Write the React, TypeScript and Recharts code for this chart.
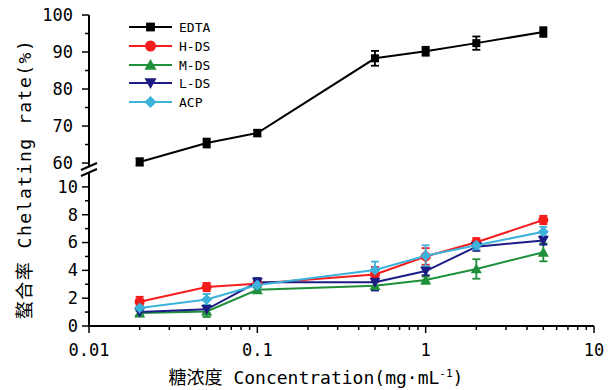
import React from "react";
import { LineChart, Line, XAxis, YAxis, ErrorBar } from "recharts";

const concentrations = [0.02, 0.05, 0.1, 0.5, 1, 2, 5];
const edta = [60.3, 65.4, 68.1, 88.3, 90.2, 92.4, 95.4];
const edtaErr = [1.0, 1.2, 0.9, 2.0, 1.2, 1.8, 1.3];
const hds = [1.75, 2.8, 3.05, 3.7, 5.0, 6.02, 7.62];
const hdsErr = [0.35, 0.3, 0.25, 0.55, 0.6, 0.3, 0.3];
const mds = [0.93, 1.05, 2.6, 2.9, 3.3, 4.1, 5.3];
const mdsErr = [0.15, 0.4, 0.2, 0.3, 0.25, 0.7, 0.65];
const lds = [1.0, 1.2, 3.15, 3.15, 3.95, 5.7, 6.15];
const ldsErr = [0.3, 0.3, 0.3, 0.6, 0.3, 0.3, 0.3];
const acp = [1.3, 1.9, 2.95, 4.03, 5.05, 5.8, 6.78];
const acpErr = [0.2, 0.4, 0.25, 0.6, 0.75, 0.3, 0.35];

const xTicks = [0.01, 0.02, 0.03, 0.04, 0.05, 0.06, 0.07, 0.08, 0.09, 0.1, 0.2, 0.3, 0.4, 0.5, 0.6, 0.7, 0.8, 0.9, 1, 2, 3, 4, 5, 6, 7, 8, 9, 10];
const xMajor = [0.01, 0.1, 1, 10];
const xMajorLabels = ["0.01", "0.1", "1", "10"];
const lowerTicks = [0, 1, 2, 3, 4, 5, 6, 7, 8, 9, 10];
const upperTicks = [60, 65, 70, 75, 80, 85, 90, 95, 100];

const seriesNames = ["EDTA", "H-DS", "M-DS", "L-DS", "ACP"];

const FONT = "'DejaVu Sans Mono', 'Noto Sans CJK SC', monospace";

const series = [
  { key: "edta", name: seriesNames[0], color: "#000000", shape: "square" },
  { key: "hds", name: seriesNames[1], color: "#f51c1c", shape: "circle" },
  { key: "mds", name: seriesNames[2], color: "#1f8f3a", shape: "up" },
  { key: "lds", name: seriesNames[3], color: "#1c1c84", shape: "down" },
  { key: "acp", name: seriesNames[4], color: "#3db2da", shape: "diamond" },
];

const data = concentrations.map((x, i) => ({
  x,
  edta: edta[i], edtaErr: edtaErr[i],
  hds: hds[i], hdsErr: hdsErr[i],
  mds: mds[i], mdsErr: mdsErr[i],
  lds: lds[i], ldsErr: ldsErr[i],
  acp: acp[i], acpErr: acpErr[i],
}));

function Marker({ cx, cy, shape, color, s = 1 }: any) {
  if (cx == null || cy == null) return null;
  if (shape === "square") {
    const h = 4 * s;
    return <rect x={cx - h} y={cy - h} width={2 * h} height={2 * h} fill={color} />;
  }
  if (shape === "circle") return <circle cx={cx} cy={cy} r={5 * s} fill={color} />;
  if (shape === "up") {
    const h = 5.5 * s;
    return <polygon points={`${cx},${cy - h} ${cx + h},${cy + h * 0.8} ${cx - h},${cy + h * 0.8}`} fill={color} />;
  }
  if (shape === "down") {
    const h = 5.5 * s;
    return <polygon points={`${cx},${cy + h} ${cx + h},${cy - h * 0.8} ${cx - h},${cy - h * 0.8}`} fill={color} />;
  }
  const h = 5.5 * s;
  return <polygon points={`${cx},${cy - h} ${cx + h},${cy} ${cx},${cy + h} ${cx - h},${cy}`} fill={color} />;
}

const XTick = (props: any) => {
  const { x, y, payload } = props;
  const v = payload.value;
  const idx = xMajor.findIndex((m) => Math.abs(m - v) < 1e-9);
  const major = idx >= 0;
  return (
    <g>
      <line x1={x} x2={x} y1={y} y2={y + (major ? 7 : 4)} stroke="#000" strokeWidth={1.5} />
      {major && (
        <text x={x} y={y + 24} dy="0.35em" textAnchor="middle" fontSize={17} fontFamily={FONT} fill="#000">
          {xMajorLabels[idx]}
        </text>
      )}
    </g>
  );
};

const makeYTick = (step: number, gap: number) => (props: any) => {
  const { x, y, payload } = props;
  const v = payload.value;
  const major = v % step === 0;
  return (
    <g>
      <line x1={x} x2={x - (major ? 7 : 4)} y1={y} y2={y} stroke="#000" strokeWidth={1.5} />
      {major && (
        <text x={x - gap} y={y} dy="0.35em" textAnchor="end" fontSize={17} fontFamily={FONT} fill="#000">
          {v}
        </text>
      )}
    </g>
  );
};

const LowerYTick = makeYTick(2, 11);
const UpperYTick = makeYTick(10, 16);

function renderLine(sr: any) {
  return (
    <Line
      key={sr.key}
      type="linear"
      dataKey={sr.key}
      stroke={sr.color}
      strokeWidth={2}
      isAnimationActive={false}
      dot={(p: any) => <Marker key={`${sr.key}-${p.index}`} cx={p.cx} cy={p.cy} shape={sr.shape} color={sr.color} />}
      activeDot={false}
    >
      <ErrorBar dataKey={`${sr.key}Err`} width={4} stroke={sr.color} strokeWidth={1.8} direction="y" isAnimationActive={false} />
    </Line>
  );
}

export default function App() {
  const legendY = [27, 46, 65, 83, 102];
  return (
    <div style={{ position: "absolute", left: 0, top: 0, width: 610, height: 390, background: "#fff" }}>
      <div style={{ position: "absolute", left: 0, top: 0 }}>
        <LineChart width={610} height={390} data={data} margin={{ top: 173, right: 16, left: 0, bottom: 0 }}>
          <XAxis
            dataKey="x"
            type="number"
            scale="log"
            domain={[0.01, 10]}
            ticks={xTicks}
            interval={0}
            height={64}
            tickSize={0}
            tickMargin={0}
            tickLine={false}
            axisLine={{ stroke: "#000", strokeWidth: 2 }}
            tick={<XTick />}
            allowDataOverflow
          />
          <YAxis
            type="number"
            domain={[0, 11]}
            ticks={lowerTicks}
            interval={0}
            width={89}
            tickSize={0}
            tickMargin={0}
            tickLine={false}
            axisLine={{ stroke: "#000", strokeWidth: 2 }}
            tick={<LowerYTick />}
            allowDataOverflow
          />
          {series.slice(1).map(renderLine)}
        </LineChart>
      </div>
      <div style={{ position: "absolute", left: 0, top: 0 }}>
        <LineChart width={610} height={185} data={data} margin={{ top: 15, right: 16, left: 0, bottom: 19 }}>
          <XAxis dataKey="x" type="number" scale="log" domain={[0.01, 10]} hide allowDataOverflow />
          <YAxis
            type="number"
            domain={[59.2, 100]}
            ticks={upperTicks}
            interval={0}
            width={89}
            tickSize={0}
            tickMargin={0}
            tickLine={false}
            axisLine={{ stroke: "#000", strokeWidth: 2 }}
            tick={<UpperYTick />}
            allowDataOverflow
          />
          {renderLine(series[0])}
        </LineChart>
      </div>
      <svg width={610} height={390} style={{ position: "absolute", left: 0, top: 0, pointerEvents: "none" }}>
        <line x1={81} y1={170} x2={97} y2={163} stroke="#000" strokeWidth={2} />
        <line x1={81} y1={176} x2={97} y2={169} stroke="#000" strokeWidth={2} />
        {series.map((sr, i) => (
          <g key={sr.key}>
            <line x1={129} x2={172} y1={legendY[i]} y2={legendY[i]} stroke={sr.color} strokeWidth={2} />
            <Marker cx={150.5} cy={legendY[i]} shape={sr.shape} color={sr.color} s={1.1} />
            <text x={179} y={legendY[i]} dy="0.35em" fontSize={13} fontFamily={FONT} fill="#000">
              {sr.name}
            </text>
          </g>
        ))}
        <text
          transform="translate(25,179) rotate(-90)"
          textAnchor="middle"
          dy="0.35em"
          fontSize={18}
          letterSpacing={1.5}
          fontFamily={FONT}
          fill="#000"
        >
          螯合率 Chelating  rate(%)
        </text>
        <text x={316} y={378} dy="0.35em" textAnchor="middle" fontSize={18} fontFamily={FONT} fill="#000">
          糖浓度 Concentration(mg·mL<tspan dy={-7} fontSize={11}>-1</tspan><tspan dy={7}>)</tspan>
        </text>
      </svg>
    </div>
  );
}
